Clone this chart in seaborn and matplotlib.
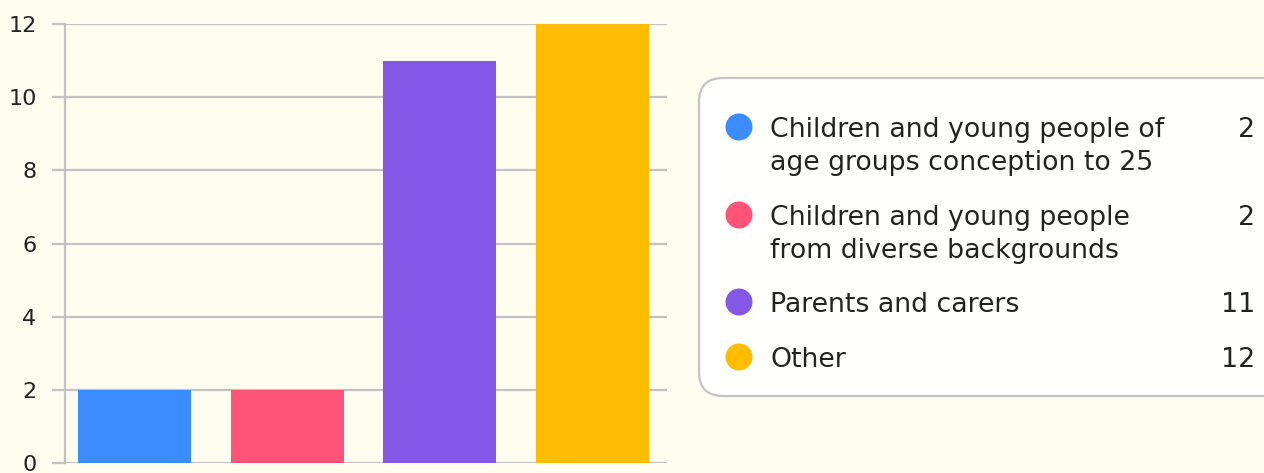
import matplotlib
matplotlib.use("Agg")
import matplotlib.pyplot as plt
from matplotlib.patches import FancyBboxPatch, Circle
import seaborn as sns
import pandas as pd

categories = [
    "Children and young people of\nage groups conception to 25",
    "Children and young people\nfrom diverse backgrounds",
    "Parents and carers",
    "Other",
]
values = [2, 2, 11, 12]
colors = ["#3a8cff", "#ff5478", "#8557e6", "#ffbd00"]
y_ticks = [0, 2, 4, 6, 8, 10, 12]

BG = "#fffdf0"
GRID = "#c2c2c2"
TEXT = "#222222"

sns.set_theme(style="white")
plt.rcParams["font.family"] = ["DejaVu Sans"]

W, H = 1264, 473
fig = plt.figure(figsize=(W / 100, H / 100), dpi=100, facecolor=BG)
ax = fig.add_axes([65 / W, 1 - 463 / H, (667 - 65) / W, (463 - 24) / H])
ax.set_facecolor(BG)

df = pd.DataFrame({"category": categories, "value": values})
sns.barplot(data=df, x="category", y="value", hue="category",
            palette=colors, width=0.74, legend=False, ax=ax,
            saturation=1, linewidth=0, zorder=3)

ax.set_xlim(-0.455, 3.488)
ax.set_ylim(0, 12)
ax.set_yticks(y_ticks)
ax.set_yticklabels([str(t) for t in y_ticks], fontsize=16, color=TEXT)
ax.set_xticks([])
ax.set_xlabel("")
ax.set_ylabel("")
ax.yaxis.grid(True, color=GRID, linewidth=1.6, zorder=0)
ax.tick_params(axis="y", length=9.5, width=1.6, color=GRID, pad=11, left=True)
for side in ["top", "right", "bottom"]:
    ax.spines[side].set_visible(False)
ax.spines["left"].set_color(GRID)
ax.spines["left"].set_linewidth(1.6)

# Legend panel drawn in pixel coordinates on a full-figure overlay
ov = fig.add_axes([0, 0, 1, 1], facecolor="none")
ov.set_xlim(0, W)
ov.set_ylim(H, 0)
ov.axis("off")

panel = FancyBboxPatch((699, 78), 620, 318,
                       boxstyle="round,pad=0,rounding_size=24",
                       facecolor="#fffffe", edgecolor="#c4c4c4", linewidth=1.6)
ov.add_patch(panel)

row_y = [127, 215, 302, 357]
for cat, val, col, y in zip(categories, values, colors, row_y):
    ov.add_patch(Circle((739, y), 13.5, facecolor=col, edgecolor="none"))
    for i, ln in enumerate(cat.split("\n")):
        ov.text(770, y + i * 33, ln, fontsize=19.3, color=TEXT,
                va="center_baseline", ha="left")
    ov.text(1255, y, str(val), fontsize=19.3, color=TEXT,
            va="center_baseline", ha="right")

fig.savefig("out.png", dpi=100, facecolor=BG)
